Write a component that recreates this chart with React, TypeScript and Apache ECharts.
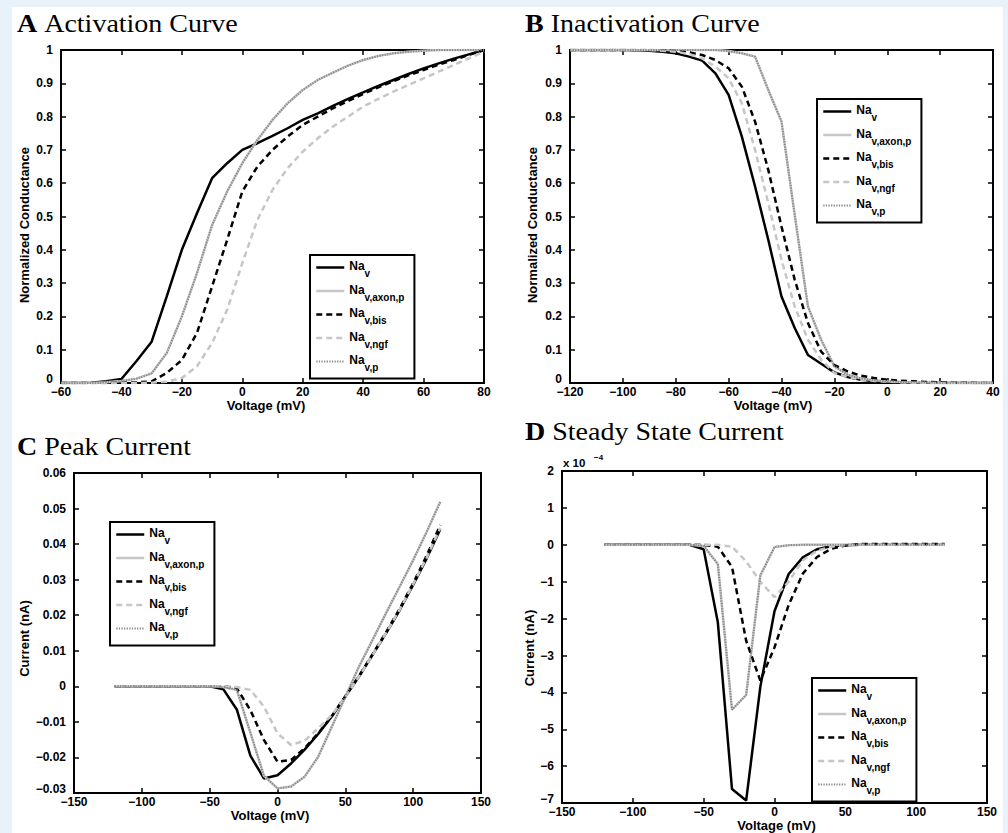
import React, { useEffect, useRef } from 'react';
import * as echarts from 'echarts';

const FONT = "'Liberation Sans', Arial, Helvetica, sans-serif";
const SERIF = "'Liberation Serif', 'Times New Roman', serif";

const SERIES_NAMES = ['Na v', 'Na v,axon,p', 'Na v,bis', 'Na v,ngf', 'Na v,p'];
const SUBSCRIPTS = ['v', 'v,axon,p', 'v,bis', 'v,ngf', 'v,p'];

// ---------- A: Activation curve (normalized conductance) ----------
const voltageA = [-60, -55, -50, -45, -40, -35, -30, -25, -20, -15, -10, -5, 0, 5, 10, 15, 20, 25, 30, 35, 40, 45, 50, 55, 60, 65, 70, 75, 80];
const actNav = [0, 0, 0.001, 0.005, 0.012, 0.066, 0.124, 0.26, 0.4, 0.51, 0.615, 0.66, 0.7, 0.72, 0.742, 0.765, 0.79, 0.81, 0.832, 0.853, 0.873, 0.892, 0.91, 0.928, 0.945, 0.96, 0.974, 0.987, 1.0];
const actAxonP = [0, 0, 0, 0.002, 0.006, 0.013, 0.029, 0.09, 0.2, 0.33, 0.474, 0.575, 0.66, 0.73, 0.79, 0.84, 0.88, 0.91, 0.932, 0.953, 0.97, 0.982, 0.99, 0.995, 0.998, 1, 1, 1, 1];
const actBis = [0, 0, 0, 0, 0.001, 0.002, 0.005, 0.03, 0.069, 0.15, 0.29, 0.43, 0.575, 0.65, 0.7, 0.74, 0.775, 0.8, 0.825, 0.847, 0.868, 0.888, 0.906, 0.924, 0.94, 0.956, 0.97, 0.985, 1.0];
const actNgf = [0, 0, 0, 0, 0, 0, 0.001, 0.004, 0.015, 0.05, 0.12, 0.22, 0.36, 0.49, 0.58, 0.645, 0.695, 0.735, 0.77, 0.8, 0.83, 0.853, 0.875, 0.895, 0.915, 0.935, 0.955, 0.975, 0.995];
const actP = [0, 0, 0, 0.002, 0.006, 0.013, 0.029, 0.09, 0.2, 0.33, 0.474, 0.575, 0.66, 0.73, 0.79, 0.84, 0.88, 0.91, 0.932, 0.953, 0.97, 0.982, 0.99, 0.995, 0.998, 1, 1, 1, 1];

// ---------- B: Inactivation curve ----------
const voltageB = [-120, -115, -110, -105, -100, -95, -90, -85, -80, -75, -70, -65, -60, -55, -50, -45, -40, -35, -30, -25, -20, -15, -10, -5, 0, 5, 10, 15, 20, 25, 30, 35, 40];
const inactNav = [1, 1, 1, 1, 1, 0.999, 0.998, 0.995, 0.99, 0.98, 0.968, 0.93, 0.865, 0.74, 0.59, 0.43, 0.26, 0.165, 0.084, 0.058, 0.032, 0.018, 0.01, 0.006, 0.004, 0.002, 0.001, 0.001, 0, 0, 0, 0, 0];
const inactAxonP = [1, 1, 1, 1, 1, 1, 1, 1, 1, 1, 1, 1, 0.997, 0.99, 0.98, 0.88, 0.785, 0.505, 0.23, 0.13, 0.05, 0.025, 0.014, 0.008, 0.005, 0.003, 0.002, 0.002, 0.001, 0.001, 0.001, 0, 0];
const inactBis = [1, 1, 1, 1, 1, 1, 1, 0.999, 0.997, 0.993, 0.985, 0.97, 0.945, 0.89, 0.785, 0.64, 0.47, 0.31, 0.18, 0.094, 0.054, 0.035, 0.022, 0.015, 0.01, 0.007, 0.005, 0.003, 0.002, 0.001, 0.001, 0, 0];
const inactNgf = [1, 1, 1, 1, 1, 1, 1, 0.998, 0.995, 0.988, 0.975, 0.95, 0.915, 0.84, 0.7, 0.54, 0.37, 0.23, 0.13, 0.07, 0.03, 0.018, 0.01, 0.006, 0.004, 0.002, 0.001, 0, 0, 0, 0, 0, 0];
const inactP = [1, 1, 1, 1, 1, 1, 1, 1, 1, 1, 1, 1, 0.997, 0.99, 0.98, 0.88, 0.785, 0.505, 0.23, 0.13, 0.05, 0.025, 0.014, 0.008, 0.005, 0.003, 0.002, 0.002, 0.001, 0.001, 0.001, 0, 0];

// ---------- C: Peak current (nA) ----------
const voltageC = [-120, -110, -100, -90, -80, -70, -60, -50, -40, -30, -20, -10, 0, 10, 20, 30, 40, 50, 60, 70, 80, 90, 100, 110, 120];
const peakNav = [0, 0, 0, 0, 0, 0, 0, 0, -0.0008, -0.0065, -0.0195, -0.0259, -0.025, -0.0217, -0.0178, -0.0134, -0.0085, -0.0029, 0.0027, 0.0088, 0.0149, 0.0214, 0.0285, 0.036, 0.0442];
const peakAxonP = [0, 0, 0, 0, 0, 0, 0, 0, -0.0002, -0.001, -0.013, -0.0252, -0.0287, -0.0282, -0.0254, -0.0198, -0.0114, -0.003, 0.0055, 0.013, 0.0206, 0.028, 0.0355, 0.0435, 0.0519];
const peakBis = [0, 0, 0, 0, 0, 0, 0, 0, 0, -0.0005, -0.0067, -0.0151, -0.0212, -0.0207, -0.0174, -0.0132, -0.0084, -0.0028, 0.0029, 0.009, 0.0152, 0.0218, 0.029, 0.0368, 0.0454];
const peakNgf = [0, 0, 0, 0, 0, 0, 0, 0, 0, -0.0002, -0.001, -0.0057, -0.0132, -0.0165, -0.0153, -0.0118, -0.0081, -0.003, 0.0027, 0.0088, 0.015, 0.0215, 0.0287, 0.0362, 0.0445];
const peakP = [0, 0, 0, 0, 0, 0, 0, 0, -0.0002, -0.001, -0.013, -0.0252, -0.0287, -0.0282, -0.0254, -0.0198, -0.0114, -0.003, 0.0055, 0.013, 0.0206, 0.028, 0.0355, 0.0435, 0.0519];

// ---------- D: Steady state current (units of 1e-4 nA) ----------
const voltageD = [-120, -110, -100, -90, -80, -70, -60, -50, -40, -30, -20, -10, 0, 10, 20, 30, 40, 50, 60, 70, 80, 90, 100, 110, 120];
const steadyNav = [0, 0, 0, 0, 0, 0, 0, -0.12, -2.1, -6.62, -6.93, -3.85, -1.8, -0.79, -0.34, -0.12, -0.04, -0.01, 0, 0, 0, 0, 0, 0, 0];
const steadyAxonP = [0, 0, 0, 0, 0, 0, 0, -0.03, -0.52, -4.47, -4.07, -0.83, -0.06, -0.01, 0, 0, 0, 0, 0, 0, 0, 0, 0, 0, 0];
const steadyBis = [0, 0, 0, 0, 0, 0, 0, 0, -0.05, -0.6, -2.6, -3.68, -2.78, -1.63, -0.78, -0.33, -0.11, -0.02, 0.02, 0.02, 0.02, 0.02, 0.02, 0.02, 0.02];
const steadyNgf = [0, 0, 0, 0, 0, 0, 0, 0, 0, -0.05, -0.45, -1.0, -1.42, -1.0, -0.42, -0.16, -0.05, -0.01, 0, 0, 0, 0, 0, 0, 0];
const steadyP = [0, 0, 0, 0, 0, 0, 0, -0.03, -0.52, -4.47, -4.07, -0.83, -0.06, -0.01, 0, 0, 0, 0, 0, 0, 0, 0, 0, 0, 0];

const STYLES: any[] = [
  { color: '#000000', width: 2.5, type: 'solid' },
  { color: '#c6c6c6', width: 2.5, type: 'solid' },
  { color: '#000000', width: 2.5, type: [6, 4] },
  { color: '#c6c6c6', width: 2.5, type: [6, 4] },
  { color: '#8a8a8a', width: 2, type: [1.3, 1.3] },
];

const fmt = (v: number) => String(parseFloat(Number(v).toFixed(6))).replace('-', '\u2212');

const PANELS = [
  {
    grid: { left: 61, top: 50, width: 423, height: 333 },
    x: [-60, 80, 20], y: [0, 1, 0.1], lowRaise: 8,
    yName: 'Normalized Conductance',
    xs: voltageA, ys: [actNav, actAxonP, actBis, actNgf, actP],
    legend: { left: 310, top: 255 },
    xGap: 13, yGap: 30, xPad: [0, 13, 0, 0], yPad: [0, 17, 0, 0],
  },
  {
    grid: { left: 570, top: 50, width: 423, height: 333 },
    x: [-120, 40, 20], y: [0, 1, 0.1], lowRaise: 8,
    yName: 'Normalized Conductance',
    xs: voltageB, ys: [inactNav, inactAxonP, inactBis, inactNgf, inactP],
    legend: { left: 817, top: 99 },
    xGap: 13, yGap: 31, xPad: [0, 17, 0, 0], yPad: [0, 17, 0, 0],
  },
  {
    grid: { left: 74, top: 473, width: 407, height: 320 },
    x: [-150, 150, 50], y: [-0.03, 0.06, 0.01], lowRaise: 8,
    yName: 'Current (nA)',
    xs: voltageC, ys: [peakNav, peakAxonP, peakBis, peakNgf, peakP],
    legend: { left: 110, top: 522 },
    xGap: 12, yGap: 43, xPad: [0, 15, 0, 0], yPad: [0, 11, 0, 0],
  },
  {
    grid: { left: 562, top: 471, width: 425, height: 334 },
    x: [-150, 150, 50], y: [-7, 2, 1], lowRaise: 8,
    yName: 'Current (nA)',
    xs: voltageD, ys: [steadyNav, steadyAxonP, steadyBis, steadyNgf, steadyP],
    legend: { left: 812, top: 678 },
    xGap: 14, yGap: 22, xPad: [0, 0, 0, 4], yPad: [0, 22, 0, 0],
  },
];

const tick = { inside: true, length: 5, lineStyle: { color: '#000', width: 1.5 } };
const labelStyle = { color: '#000', fontFamily: FONT, fontWeight: 'bold', fontSize: 12 };
const nameStyle = { color: '#000', fontFamily: FONT, fontWeight: 'bold', fontSize: 13 };

function buildOption() {
  const grid: any[] = [];
  const xAxis: any[] = [];
  const yAxis: any[] = [];
  const series: any[] = [];
  const legend: any[] = [];

  PANELS.forEach((p, k) => {
    grid.push({ ...p.grid, show: true, borderColor: '#000', borderWidth: 2, backgroundColor: '#fff' });
    xAxis.push({
      type: 'value', gridIndex: k, position: 'bottom', min: p.x[0], max: p.x[1], interval: p.x[2],
      name: 'Voltage (mV)', nameLocation: 'middle', nameGap: p.xGap,
      nameTextStyle: { ...nameStyle, padding: p.xPad },
      axisLine: { show: false, onZero: false }, axisTick: tick, splitLine: { show: false },
      axisLabel: { ...labelStyle, margin: 3, formatter: fmt },
    });
    xAxis.push({
      type: 'value', gridIndex: k, position: 'top', min: p.x[0], max: p.x[1], interval: p.x[2],
      axisLine: { show: false, onZero: false }, axisTick: tick, splitLine: { show: false },
      axisLabel: { show: false },
    });
    yAxis.push({
      type: 'value', gridIndex: k, position: 'left', min: p.y[0], max: p.y[1], interval: p.y[2],
      name: p.yName, nameLocation: 'middle', nameGap: p.yGap,
      nameTextStyle: { ...nameStyle, padding: p.yPad },
      axisLine: { show: false, onZero: false }, axisTick: tick, splitLine: { show: false },
      axisLabel: {
        ...labelStyle, margin: 8,
        formatter: (v: number) => (Math.abs(v - p.y[0]) < 1e-9 ? `{lo|${fmt(v)}}` : fmt(v)),
        rich: { lo: { ...labelStyle, padding: [0, 0, p.lowRaise, 0] } },
      },
    });
    yAxis.push({
      type: 'value', gridIndex: k, position: 'right', min: p.y[0], max: p.y[1], interval: p.y[2],
      axisLine: { show: false, onZero: false }, axisTick: tick, splitLine: { show: false },
      axisLabel: { show: false },
    });
    p.ys.forEach((ys, i) => {
      const st = STYLES[i];
      series.push({
        type: 'line', name: SERIES_NAMES[i], xAxisIndex: 2 * k, yAxisIndex: 2 * k,
        data: p.xs.map((x, j) => [x, ys[j]]),
        symbol: 'none', silent: true, z: 2 + i,
        itemStyle: { color: st.color },
        lineStyle: { color: st.color, width: st.width, type: st.type },
      });
    });
    legend.push({
      left: p.legend.left, top: p.legend.top, orient: 'vertical',
      backgroundColor: '#fff', borderColor: '#000', borderWidth: 2, borderRadius: 0,
      padding: [5, 10, 6, 5], itemGap: 5, itemWidth: 28, itemHeight: 14, selectedMode: false,
      data: SERIES_NAMES.map((n, i) => ({
        name: n,
        lineStyle: { color: STYLES[i].color, width: STYLES[i].width, type: STYLES[i].type, opacity: 1 },
        itemStyle: { opacity: 0 },
      })),
      formatter: (name: string) => `{n|Na}{s|${SUBSCRIPTS[SERIES_NAMES.indexOf(name)]}}`,
      textStyle: {
        color: '#000',
        rich: {
          n: { fontFamily: FONT, fontWeight: 'bold', fontSize: 12, color: '#000', padding: [0, 0, 3, 0] },
          s: { fontFamily: FONT, fontWeight: 'bold', fontSize: 10, color: '#000', padding: [12, 0, 0, 0] },
        },
      },
    });
  });

  const title = (letter: string, rest: string, x: number, y: number) => ({
    type: 'text', x, y, scaleX: 1.12, silent: true,
    style: {
      text: `{b|${letter}} {r|${rest}}`,
      fontFamily: SERIF, fontSize: 25, fill: '#000', verticalAlign: 'middle',
      rich: {
        b: { fontFamily: SERIF, fontSize: 25, fontWeight: 'bold', fill: '#000' },
        r: { fontFamily: SERIF, fontSize: 25, fontWeight: 'normal', fill: '#000' },
      },
    },
  });

  return {
    animation: false,
    backgroundColor: 'transparent',
    grid, xAxis, yAxis, series, legend,
    graphic: [
      title('A', 'Activation Curve', 17, 23.5),
      title('B', 'Inactivation Curve', 525, 23.5),
      title('C', 'Peak Current', 17, 447),
      title('D', 'Steady State Current', 525, 432),
      { type: 'text', x: 563, y: 463, silent: true, style: { text: 'x 10', fontFamily: FONT, fontWeight: 'bold', fontSize: 11.5, fill: '#000', verticalAlign: 'middle' } },
      { type: 'text', x: 594, y: 457, silent: true, style: { text: '\u22124', fontFamily: FONT, fontWeight: 'bold', fontSize: 8, fill: '#000', verticalAlign: 'middle' } },
    ],
  };
}

export default function App() {
  const ref = useRef<HTMLDivElement>(null);
  useEffect(() => {
    const chart = echarts.init(ref.current as HTMLDivElement, null, { renderer: 'svg' });
    chart.setOption(buildOption() as any);
    return () => chart.dispose();
  }, []);
  return (
    <div style={{ position: 'fixed', left: 0, top: 0, width: 1008, height: 833, background: '#e7f2fa', overflow: 'hidden' }}>
      <div style={{ position: 'absolute', left: 12, top: 7, width: 991, height: 826, background: '#ffffff' }} />
      <div ref={ref} style={{ position: 'absolute', left: 0, top: 0, width: 1008, height: 833 }} />
    </div>
  );
}
